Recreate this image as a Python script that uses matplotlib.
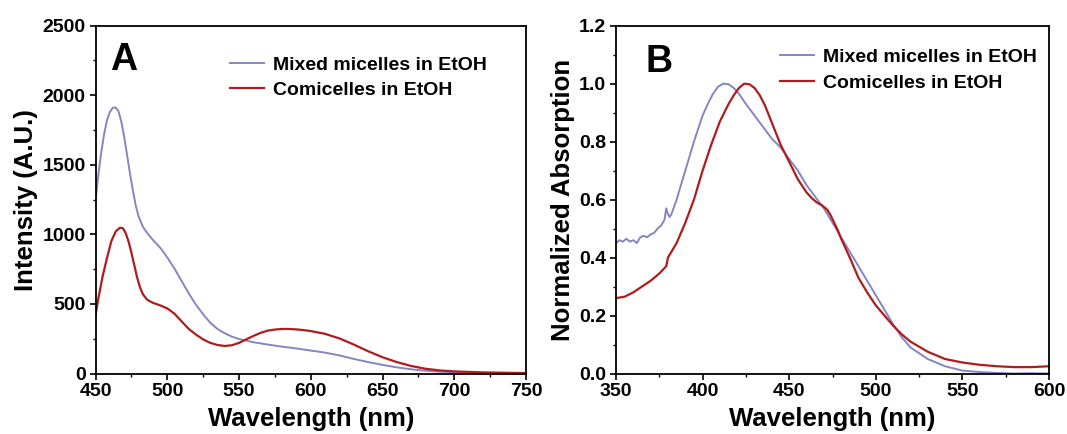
import matplotlib
matplotlib.use("Agg")
import matplotlib.pyplot as plt
from matplotlib.ticker import MultipleLocator, AutoMinorLocator, FormatStrFormatter

plt.rcParams["font.family"] = ["Liberation Sans", "DejaVu Sans"]
plt.rcParams["font.weight"] = "bold"

# --- panel A: emission spectra ---
wl_a_mixed = [450, 452, 454, 456, 458, 460, 462, 464, 466, 468, 470, 472, 474,
              476, 478, 480, 483, 486, 490, 495, 500, 505, 510, 515, 520, 525,
              530, 535, 540, 545, 550, 560, 570, 580, 590, 600, 610, 620, 630,
              640, 650, 660, 670, 680, 690, 700, 720, 750]
int_a_mixed = [1240, 1430, 1590, 1720, 1820, 1880, 1910, 1912, 1885, 1810,
               1700, 1570, 1440, 1320, 1210, 1130, 1055, 1010, 960, 905, 835,
               755, 665, 575, 495, 425, 365, 320, 290, 265, 248, 225, 208, 193,
               180, 165, 150, 130, 105, 82, 62, 44, 30, 20, 13, 9, 4, 2]

wl_a_comi = [450, 452, 455, 458, 461, 464, 467, 469, 471, 473, 475, 477, 479,
             481, 483, 486, 490, 495, 500, 505, 510, 515, 520, 525, 530, 535,
             540, 545, 550, 555, 560, 565, 570, 575, 580, 585, 590, 595, 600,
             610, 620, 630, 640, 650, 660, 670, 680, 690, 700, 720, 750]
int_a_comi = [420, 540, 700, 830, 950, 1020, 1048, 1045, 1010, 950, 870, 780,
              690, 620, 570, 530, 508, 490, 468, 430, 375, 320, 280, 245, 220,
              205, 198, 203, 220, 245, 270, 292, 308, 316, 320, 320, 317, 312,
              305, 285, 252, 208, 160, 117, 82, 54, 34, 22, 15, 8, 3]

# --- panel B: normalized absorption ---
wl_b_mixed = [350, 352, 354, 356, 358, 360, 362, 364, 366, 368, 370, 372, 374,
              376, 378, 379, 380, 381, 382, 385, 390, 395, 400, 403, 406, 409,
              412, 415, 418, 421, 425, 430, 435, 440, 445, 450, 455, 460, 465,
              470, 475, 480, 485, 490, 495, 500, 505, 510, 515, 520, 530, 540,
              550, 560, 570, 580, 590, 600]
abs_b_mixed = [0.45, 0.46, 0.455, 0.465, 0.455, 0.46, 0.45, 0.47, 0.475, 0.47,
               0.48, 0.485, 0.50, 0.51, 0.53, 0.57, 0.55, 0.54, 0.55, 0.60, 0.70,
               0.80, 0.89, 0.93, 0.965, 0.99, 1.0, 0.998, 0.985, 0.965, 0.93,
               0.89, 0.85, 0.81, 0.78, 0.74, 0.70, 0.65, 0.61, 0.57, 0.52, 0.47,
               0.42, 0.37, 0.32, 0.27, 0.22, 0.17, 0.125, 0.09, 0.05, 0.025,
               0.01, 0.005, 0.002, 0.0, 0.001, 0.0]

wl_b_comi = [350, 355, 360, 365, 370, 375, 379, 380, 385, 390, 395, 400, 405,
             410, 415, 418, 421, 424, 427, 430, 433, 436, 440, 445, 450, 455,
             460, 463, 466, 469, 472, 474, 476, 478, 480, 485, 490, 495, 500,
             505, 510, 515, 520, 530, 540, 550, 560, 570, 580, 590, 600]
abs_b_comi = [0.26, 0.265, 0.28, 0.30, 0.32, 0.345, 0.37, 0.40, 0.45, 0.52,
              0.60, 0.70, 0.79, 0.87, 0.93, 0.96, 0.985, 1.0, 0.998, 0.985,
              0.96, 0.925, 0.865, 0.79, 0.73, 0.67, 0.625, 0.605, 0.59, 0.58,
              0.565, 0.545, 0.52, 0.495, 0.465, 0.40, 0.33, 0.28, 0.235, 0.20,
              0.165, 0.135, 0.11, 0.075, 0.05, 0.038, 0.03, 0.025, 0.022,
              0.022, 0.025]

labels = ["Mixed micelles in EtOH", "Comicelles in EtOH"]
c_mixed = "#8585c2"
c_comi = "#b01c1c"

W, H = 1067, 434


def px(x, y):
    # pixel position (from top-left) -> figure fraction
    return x / W, 1 - y / H


def style_axes(ax):
    for s in ax.spines.values():
        s.set_linewidth(1.3)
    ax.tick_params(which="major", direction="out", length=4, width=1.2,
                   labelsize=14, pad=3)
    ax.tick_params(which="minor", direction="out", length=2.5, width=1.0)
    ax.xaxis.set_minor_locator(AutoMinorLocator(2))
    ax.yaxis.set_minor_locator(AutoMinorLocator(2))


fig = plt.figure(figsize=(10.67, 4.34), dpi=100)
ax1 = fig.add_axes([95.5 / W, 1 - 373.5 / H, 430.5 / W, 347.8 / H])
ax2 = fig.add_axes([616 / W, 1 - 373.5 / H, 433 / W, 347.8 / H])

ax1.plot(wl_a_mixed, int_a_mixed, color=c_mixed, lw=1.4, label=labels[0])
ax1.plot(wl_a_comi, int_a_comi, color=c_comi, lw=1.6, label=labels[1])
ax1.set_xlim(450, 750)
ax1.set_ylim(0, 2500)
ax1.xaxis.set_major_locator(MultipleLocator(50))
ax1.yaxis.set_major_locator(MultipleLocator(500))
ax1.set_xlabel("Wavelength (nm)", fontsize=18.5, fontweight="bold", labelpad=5)
ax1.set_ylabel("Intensity (A.U.)", fontsize=18.5, fontweight="bold", labelpad=3)
fig.text(*px(110, 70), "A", fontsize=27, fontweight="bold",
         ha="left", va="baseline")
ax1.legend(loc="upper left", frameon=False, fontsize=14,
           bbox_to_anchor=px(230, 56), bbox_transform=fig.transFigure,
           borderpad=0, borderaxespad=0, handlelength=1.75,
           handletextpad=0.45, labelspacing=0.4)
style_axes(ax1)

ax2.plot(wl_b_mixed, abs_b_mixed, color=c_mixed, lw=1.4, label=labels[0])
ax2.plot(wl_b_comi, abs_b_comi, color=c_comi, lw=1.6, label=labels[1])
ax2.set_xlim(350, 600)
ax2.set_ylim(0, 1.2)
ax2.xaxis.set_major_locator(MultipleLocator(50))
ax2.yaxis.set_major_locator(MultipleLocator(0.2))
ax2.yaxis.set_major_formatter(FormatStrFormatter("%.1f"))
ax2.set_xlabel("Wavelength (nm)", fontsize=18.5, fontweight="bold", labelpad=5)
ax2.set_ylabel("Normalized Absorption", fontsize=18.5, fontweight="bold",
               labelpad=3)
fig.text(*px(645, 72), "B", fontsize=27, fontweight="bold",
         ha="left", va="baseline")
ax2.legend(loc="upper left", frameon=False, fontsize=14,
           bbox_to_anchor=px(780, 48), bbox_transform=fig.transFigure,
           borderpad=0, borderaxespad=0, handlelength=1.75,
           handletextpad=0.45, labelspacing=0.45)
style_axes(ax2)

fig.savefig("out.png", dpi=100)
